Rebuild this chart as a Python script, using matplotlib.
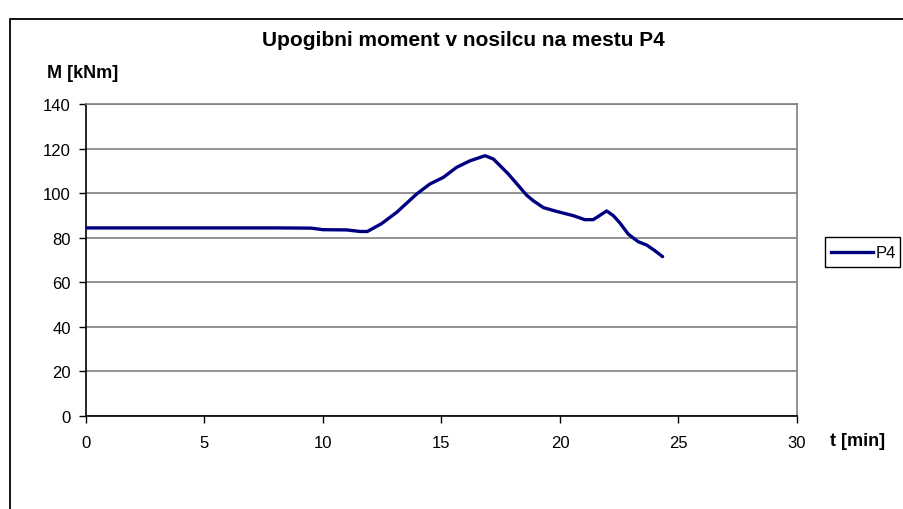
import matplotlib
matplotlib.use("Agg")
import matplotlib.pyplot as plt
from matplotlib.patches import Rectangle
from matplotlib.lines import Line2D

plt.rcParams['font.family'] = ['Liberation Sans', 'DejaVu Sans']

# Bending moment at location P4 over time
t_min = [0.0, 2.0, 4.0, 6.0, 8.0, 9.5, 10.0, 11.0, 11.56, 11.87, 12.47, 13.11,
         13.95, 14.51, 15.08, 15.64, 16.2, 16.84, 17.19, 17.82, 18.59, 18.87,
         19.3, 19.86, 20.56, 21.05, 21.4, 21.97, 22.25, 22.53, 22.88, 23.3,
         23.66, 24.0, 24.33]
m_knm = [84.4, 84.4, 84.4, 84.4, 84.4, 84.3, 83.6, 83.5, 82.8, 82.8, 86.3, 91.4,
         99.6, 104.1, 107.1, 111.6, 114.5, 116.8, 115.3, 108.6, 99.1, 96.6,
         93.5, 91.8, 89.9, 88.1, 88.1, 92.0, 89.9, 86.6, 81.6, 78.2,
         76.7, 74.2, 71.5]

x_ticks = [0, 5, 10, 15, 20, 25, 30]
y_ticks = [0, 20, 40, 60, 80, 100, 120, 140]

W, H = 904, 510
fig = plt.figure(figsize=(W / 100, H / 100), dpi=100)

# chart frame (clipped at right and bottom)
fig.patches.append(Rectangle((10 / W, -0.2), 1.2, 1.2 - 20 / H,
                             transform=fig.transFigure, fill=False,
                             edgecolor='black', linewidth=1.3))

ax = fig.add_axes([86 / W, 1 - 417 / H, (797 - 86) / W, (417 - 105) / H])
ax.plot(t_min, m_knm, color='#000080', linewidth=2.4, solid_capstyle='round',
        solid_joinstyle='round', zorder=3)

ax.set_xlim(0, 30)
ax.set_ylim(0, 140)
ax.set_xticks(x_ticks)
ax.set_yticks(y_ticks)
ax.tick_params(axis='both', labelsize=12, length=5, width=1, color='black',
               direction='out')
ax.tick_params(axis='x', pad=9)
ax.tick_params(axis='y', pad=6)
ax.yaxis.grid(True, color='#808080', linewidth=1.2)
ax.set_axisbelow(True)
for s in ['top', 'right']:
    ax.spines[s].set_color('#808080')
    ax.spines[s].set_linewidth(1.2)
for s in ['left', 'bottom']:
    ax.spines[s].set_color('black')
    ax.spines[s].set_linewidth(1.2)

fig.text(463 / W, 1 - 41 / H, 'Upogibni moment v nosilcu na mestu P4',
         ha='center', va='center', fontsize=15, fontweight='bold')
fig.text(47 / W, 1 - 74 / H, 'M [kNm]', ha='left', va='center',
         fontsize=13, fontweight='bold')
fig.text(830 / W, 1 - 442 / H, 't [min]', ha='left', va='center',
         fontsize=13, fontweight='bold')

# legend
fig.patches.append(Rectangle((825 / W, 1 - 268 / H), 75 / W, 30 / H,
                             transform=fig.transFigure, fill=True,
                             facecolor='white', edgecolor='black', linewidth=1))
fig.lines.append(Line2D([831 / W, 873 / W], [1 - 253 / H, 1 - 253 / H],
                        transform=fig.transFigure, color='#000080', linewidth=2.4))
fig.text(876 / W, 1 - 253 / H, 'P4', ha='left', va='center', fontsize=12)

fig.savefig('out.png', dpi=100)
